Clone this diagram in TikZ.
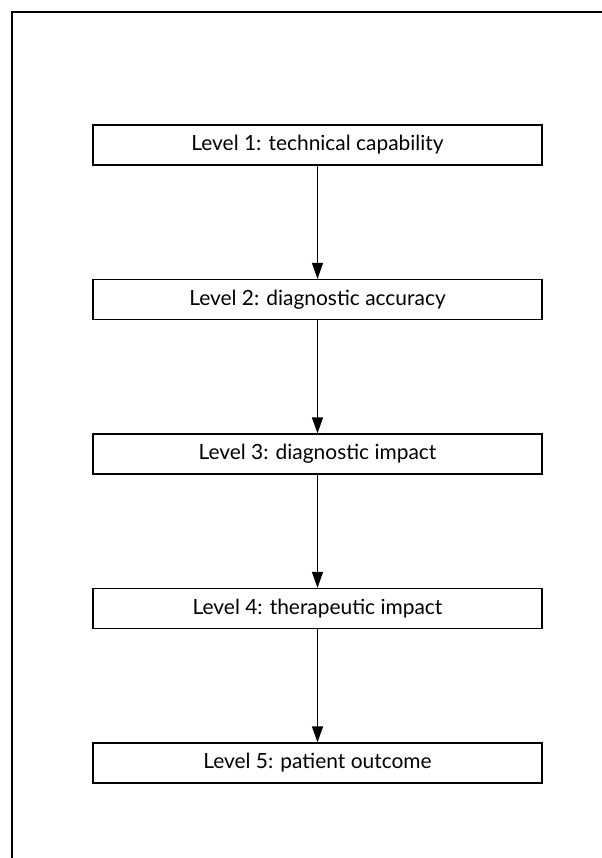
\documentclass[tikz,border=0pt]{standalone}
\usepackage{fontspec}
\setmainfont{Lato}
\usetikzlibrary{arrows.meta}

\begin{document}
\begin{tikzpicture}[x=1bp,y=-1bp,
  level/.style={draw, line width=1.2bp, minimum width=449bp, minimum height=40bp, inner sep=0pt, font=\fontsize{21}{24}\selectfont},
  flow/.style={-{Triangle[length=16bp,width=11bp]}, line width=1.2bp}]
\useasboundingbox (0,0) rectangle (602,858);
% Frame
\draw[line width=1.8bp] (602,12) -- (12,12) -- (12,858);
% Levels
\node[level] (lvl1) at (317.5,145) {Level 1: technical capability};
\node[level] (lvl2) at (317.5,299.5) {Level 2: diagnostic accuracy};
\node[level] (lvl3) at (317.5,454) {Level 3: diagnostic impact};
\node[level] (lvl4) at (317.5,608.5) {Level 4: therapeutic impact};
\node[level] (lvl5) at (317.5,763) {Level 5: patient outcome};
% Arrows
\draw[flow] (lvl1) -- (lvl2);
\draw[flow] (lvl2) -- (lvl3);
\draw[flow] (lvl3) -- (lvl4);
\draw[flow] (lvl4) -- (lvl5);
\end{tikzpicture}
\end{document}
